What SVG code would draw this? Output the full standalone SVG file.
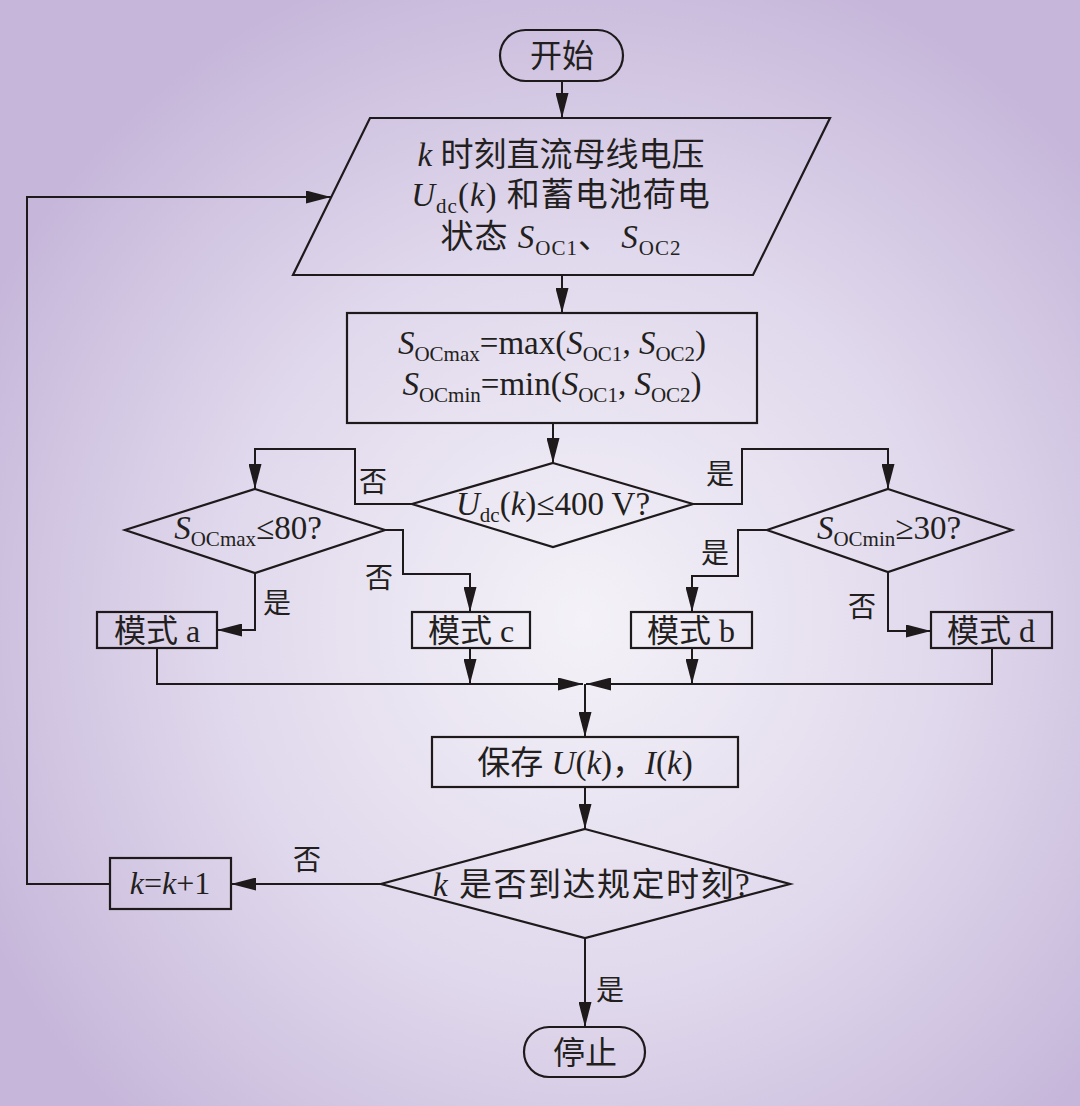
<svg xmlns="http://www.w3.org/2000/svg" width="1080" height="1106" viewBox="0 0 1080 1106">
<defs>
<radialGradient id="bg" cx="0.54" cy="0.56" r="0.62">
<stop offset="0" stop-color="#f4f2f8"/>
<stop offset="0.55" stop-color="#e0d8ec"/>
<stop offset="1" stop-color="#c6b7da"/>
</radialGradient>
<marker id="ah" markerUnits="userSpaceOnUse" markerWidth="25" markerHeight="13" refX="25" refY="6.5" orient="auto">
<path d="M0,0 L25,6.5 L0,13 Z" fill="#1e1a1c"/>
</marker>
<style>
.s{fill:none;stroke:#1e1a1c;stroke-width:2.2}
.c{fill:none;stroke:#1e1a1c;stroke-width:2}
.a{marker-end:url(#ah)}
text{font-family:"Liberation Serif","Noto Sans CJK SC",serif;font-size:33px;fill:#231f20;text-anchor:middle}
.i{font-style:italic}
.sub{font-size:21px}
.lb{font-size:28px}
.n{font-size:32px}
</style>
</defs>
<rect x="0" y="0" width="1080" height="1106" fill="url(#bg)"/>

<g id="connectors">
<path class="c a" d="M562,81 V118"/>
<path class="c a" d="M562,275 V313"/>
<path class="c a" d="M553,423 V463"/>
<path class="c a" d="M412,504 H355 V449 H255 V489"/>
<path class="c a" d="M693,504 H742 V449 H888 V489"/>
<path class="c a" d="M385,530 H403 V574 H470 V612"/>
<path class="c a" d="M255,573 V630 H217"/>
<path class="c a" d="M767,530 H738 V576 H692 V612"/>
<path class="c a" d="M888,572 V631 H931"/>
<path class="c a" d="M157,648 V684 H583"/>
<path class="c a" d="M992,648 V684 H586"/>
<path class="c a" d="M470,648 V684"/>
<path class="c a" d="M692,648 V684"/>
<path class="c a" d="M585,684 V737"/>
<path class="c a" d="M585,787 V829"/>
<path class="c a" d="M381,884 H231"/>
<path class="c a" d="M110,884 H27 V197 H331"/>
<path class="c a" d="M585,938 V1027"/>
<text class="lb" x="373" y="492">否</text>
<text class="lb" x="720" y="484">是</text>
<text class="lb" x="379" y="588">否</text>
<text class="lb" x="277" y="613">是</text>
<text class="lb" x="715" y="563">是</text>
<text class="lb" x="862" y="617">否</text>
<text class="lb" x="307" y="870">否</text>
<text class="lb" x="610" y="1000">是</text>
</g>

<g id="start">
<rect class="s" x="500" y="30" width="123" height="51" rx="25.5"/>
<text class="n" x="562" y="67">开始</text>
</g>

<g id="input">
<path class="s" d="M370,118 H830 L753,275 H293 Z"/>
<text x="561" y="166"><tspan class="i">k</tspan> 时刻直流母线电压</text>
<text x="561" y="206" letter-spacing="1"><tspan class="i">U</tspan><tspan class="sub" dy="7">dc</tspan><tspan dy="-7">(</tspan><tspan class="i">k</tspan>) 和蓄电池荷电</text>
<text x="561" y="248" letter-spacing="1">状态 <tspan class="i">S</tspan><tspan class="sub" dy="7">OC1</tspan><tspan dy="-7">、 </tspan><tspan class="i">S</tspan><tspan class="sub" dy="7">OC2</tspan></text>
</g>

<g id="minmax">
<rect class="s" x="347" y="313" width="410" height="110"/>
<text x="552" y="354"><tspan class="i">S</tspan><tspan class="sub" dy="7">OCmax</tspan><tspan dy="-7">=max(</tspan><tspan class="i">S</tspan><tspan class="sub" dy="7">OC1</tspan><tspan dy="-7">, </tspan><tspan class="i">S</tspan><tspan class="sub" dy="7">OC2</tspan><tspan dy="-7">)</tspan></text>
<text x="552" y="395"><tspan class="i">S</tspan><tspan class="sub" dy="7">OCmin</tspan><tspan dy="-7">=min(</tspan><tspan class="i">S</tspan><tspan class="sub" dy="7">OC1</tspan><tspan dy="-7">, </tspan><tspan class="i">S</tspan><tspan class="sub" dy="7">OC2</tspan><tspan dy="-7">)</tspan></text>
</g>

<g id="d-udc">
<path class="s" d="M553,463 L693,504 L553,547 L412,504 Z"/>
<text x="553" y="515" font-size="34"><tspan class="i">U</tspan><tspan class="sub" dy="7">dc</tspan><tspan dy="-7">(</tspan><tspan class="i">k</tspan>)≤400 V?</text>
</g>

<g id="d-max">
<path class="s" d="M255,489 L385,530 L255,573 L125,530 Z"/>
<text x="248" y="539" font-size="34"><tspan class="i">S</tspan><tspan class="sub" dy="7">OCmax</tspan><tspan dy="-7">≤80?</tspan></text>
</g>

<g id="d-min">
<path class="s" d="M888,489 L1012,530 L888,572 L767,530 Z"/>
<text x="889" y="539" font-size="34"><tspan class="i">S</tspan><tspan class="sub" dy="7">OCmin</tspan><tspan dy="-7">≥30?</tspan></text>
</g>

<g id="mode-a">
<rect class="s" x="97" y="612" width="120" height="36"/>
<text class="n" x="157" y="642">模式 a</text>
</g>
<g id="mode-c">
<rect class="s" x="412" y="612" width="118" height="36"/>
<text class="n" x="471" y="642">模式 c</text>
</g>
<g id="mode-b">
<rect class="s" x="631" y="612" width="121" height="36"/>
<text class="n" x="691" y="642">模式 b</text>
</g>
<g id="mode-d">
<rect class="s" x="931" y="612" width="121" height="36"/>
<text class="n" x="991" y="642">模式 d</text>
</g>

<g id="save">
<rect class="s" x="432" y="737" width="306" height="50"/>
<text x="585" y="774">保存 <tspan class="i">U</tspan>(<tspan class="i">k</tspan>)，<tspan class="i">I</tspan>(<tspan class="i">k</tspan>)</text>
</g>

<g id="d-end">
<path class="s" d="M585,829 L790,884 L585,938 L381,884 Z"/>
<text x="592" y="896" letter-spacing="1.5"><tspan class="i">k</tspan> 是否到达规定时刻?</text>
</g>

<g id="inc">
<rect class="s" x="110" y="858" width="121" height="51"/>
<text class="n" x="170" y="894"><tspan class="i">k</tspan>=<tspan class="i">k</tspan>+1</text>
</g>

<g id="stop">
<rect class="s" x="524" y="1027" width="121" height="50" rx="25"/>
<text class="n" x="585" y="1064">停止</text>
</g>
</svg>
